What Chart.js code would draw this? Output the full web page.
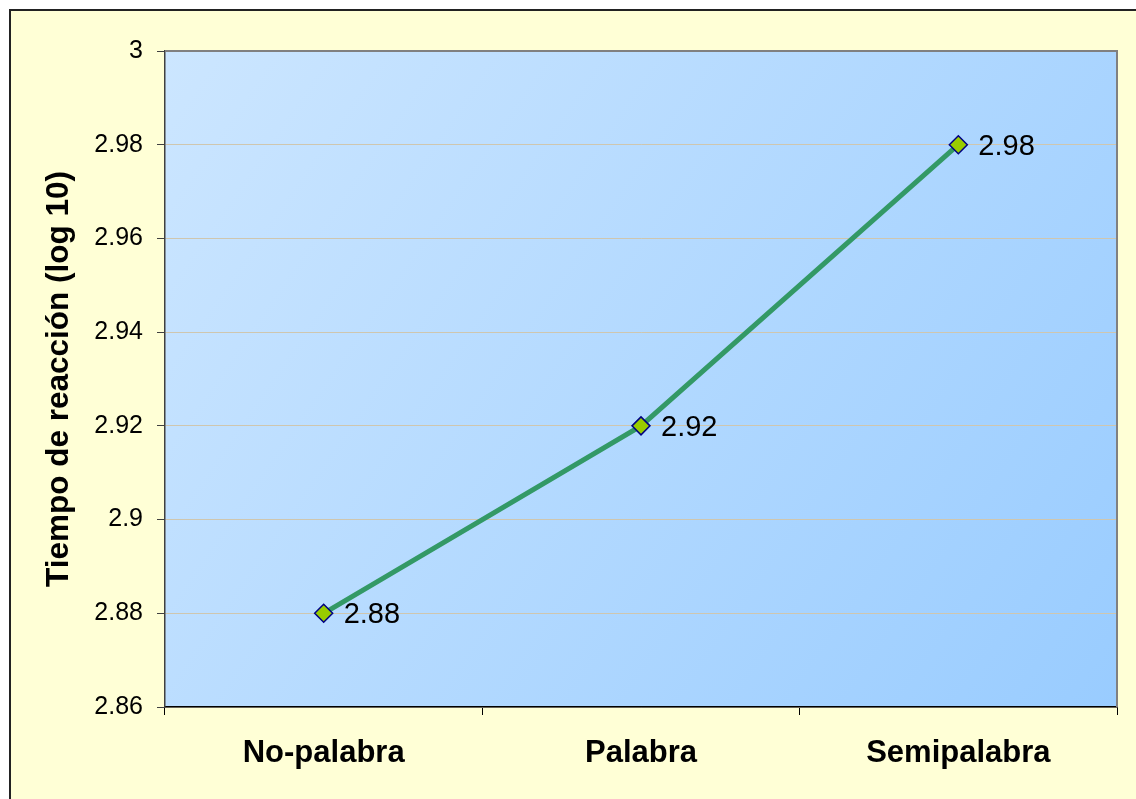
<!DOCTYPE html>
<html>
<head>
<meta charset="utf-8">
<script src="https://cdn.jsdelivr.net/npm/chart.js@4/dist/chart.umd.min.js"></script>
<style>
  html, body { margin: 0; padding: 0; background: #fff; }
  #wrap { width: 1136px; height: 799px; }
</style>
</head>
<body>
<div id="wrap"><canvas id="chart" width="1136" height="799"></canvas></div>
<script>
// datos del gráfico
const categories = ["No-palabra", "Palabra", "Semipalabra"];
const tiempos = [2.88, 2.92, 2.98];
const yTicks = [2.86, 2.88, 2.9, 2.92, 2.94, 2.96, 2.98, 3];
const yTitle = "Tiempo de reacción (log 10)";

// fondo crema, marco exterior y degradado del área de trazado
const fondoPlugin = {
  id: "fondo",
  beforeDraw(chart) {
    const { ctx, chartArea: a } = chart;
    ctx.save();
    ctx.fillStyle = "#ffffff";
    ctx.fillRect(0, 0, chart.width, chart.height);
    ctx.fillStyle = "#FFFFD6";
    ctx.fillRect(10, 10, chart.width, chart.height);
    ctx.strokeStyle = "#222";
    ctx.lineWidth = 2;
    ctx.strokeRect(10, 10, chart.width + 20, chart.height + 20);

    const g = ctx.createLinearGradient(a.left, a.top, a.right, a.bottom);
    g.addColorStop(0, "#CCE6FF");
    g.addColorStop(1, "#99CCFF");
    ctx.fillStyle = g;
    ctx.fillRect(a.left, a.top, a.right - a.left, a.bottom - a.top);
    ctx.restore();
  },
  afterDatasetsDraw(chart) {
    const { ctx, chartArea: a } = chart;
    ctx.save();
    // borde superior y derecho
    ctx.strokeStyle = "#808080";
    ctx.lineWidth = 2;
    ctx.beginPath();
    ctx.moveTo(a.left, a.top);
    ctx.lineTo(a.right, a.top);
    ctx.lineTo(a.right, a.bottom);
    ctx.stroke();

    // etiquetas de datos
    const meta = chart.getDatasetMeta(0);
    ctx.fillStyle = "#000";
    ctx.font = "29px Arial, 'Liberation Sans', sans-serif";
    ctx.textAlign = "left";
    ctx.textBaseline = "middle";
    meta.data.forEach((pt, i) => {
      ctx.fillText(String(tiempos[i]), pt.x + 20, pt.y + 2);
    });
    ctx.restore();
  }
};

const ctx = document.getElementById("chart").getContext("2d");
const chart = new Chart(ctx, {
  type: "line",
  data: {
    labels: categories,
    datasets: [{
      data: tiempos,
      borderColor: "#339966",
      borderWidth: 5,
      tension: 0,
      pointStyle: "rectRot",
      pointRadius: 9,
      pointBackgroundColor: "#99CC00",
      pointBorderColor: "#000080",
      pointBorderWidth: 1.5,
      clip: false
    }]
  },
  options: {
    responsive: false,
    animation: false,
    layout: { padding: { top: 51, right: 19, bottom: 0, left: 0 } },
    plugins: {
      legend: { display: false },
      tooltip: { enabled: false }
    },
    scales: {
      x: {
        offset: true,
        grid: {
          offset: true,
          drawOnChartArea: false,
          tickLength: 8,
          tickColor: "#000",
          tickWidth: 1
        },
        border: { color: "#000", width: 1.5 },
        ticks: {
          color: "#000",
          padding: 20,
          font: { family: "Arial, 'Liberation Sans', sans-serif", size: 31, weight: "bold" }
        },
        afterFit(scale) { scale.height = 92; }
      },
      y: {
        min: 2.86,
        max: 3,
        afterBuildTicks(scale) {
          scale.ticks = yTicks.map(v => ({ value: v }));
        },
        grid: {
          color: "#CFC6AE",
          lineWidth: 1,
          tickLength: 8,
          tickColor: "#404040",
          tickWidth: 1
        },
        border: { color: "#404040", width: 1.5 },
        ticks: {
          color: "#000",
          padding: 14,
          font: { family: "Arial, 'Liberation Sans', sans-serif", size: 25 },
          callback: (v) => String(Math.round(v * 100) / 100)
        },
        title: {
          display: true,
          text: yTitle,
          color: "#000",
          padding: { top: 40, bottom: 0 },
          font: { family: "Arial, 'Liberation Sans', sans-serif", size: 31.5, weight: "bold" }
        },
        afterFit(scale) { scale.width = 165; }
      }
    }
  },
  plugins: [fondoPlugin]
});
</script>
</body>
</html>
